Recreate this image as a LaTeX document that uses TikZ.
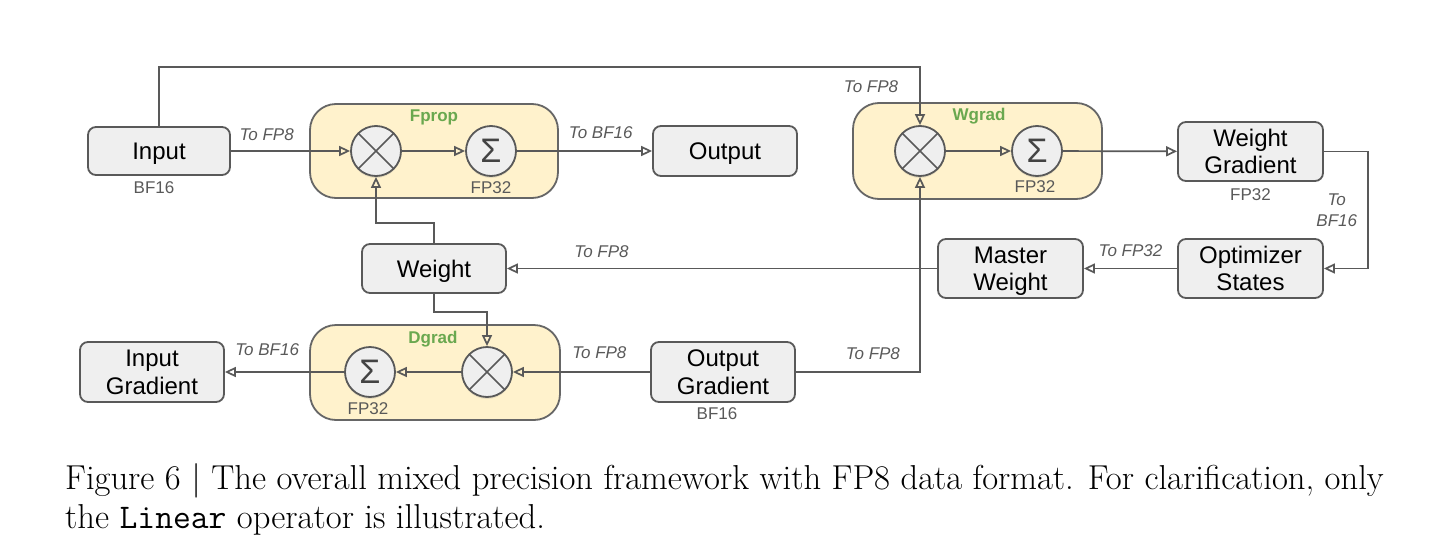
\documentclass[tikz,border=0pt]{standalone}
\usepackage{fontspec}
\setsansfont{Liberation Sans}
\usetikzlibrary{arrows.meta,shadows}

\definecolor{boxfill}{HTML}{EFEFEF}
\definecolor{boxline}{HTML}{595959}
\definecolor{stagefill}{HTML}{FFF2CC}
\definecolor{stageline}{HTML}{666666}
\definecolor{connline}{HTML}{595959}
\definecolor{lbltext}{HTML}{595959}
\definecolor{titlegreen}{HTML}{6AA84F}
\definecolor{sigmatext}{HTML}{434343}

\newcommand{\toprowy}{151}
\newcommand{\midrowy}{268.5}
\newcommand{\botrowy}{372}

\tikzset{
  box/.style={draw=boxline, fill=boxfill, line width=1.8pt, rounded corners=8pt,
    align=center, inner sep=0pt, text depth=0pt, text=black,
    font=\sffamily\fontsize{24}{27.5}\selectfont},
  stage/.style={draw=stageline, fill=stagefill, line width=1.8pt, rounded corners=26pt, inner sep=0pt},
  opnode/.style={circle, draw=boxline, fill=boxfill, line width=1.8pt, minimum size=50pt, inner sep=0pt,
    drop shadow={opacity=0.18, shadow xshift=0pt, shadow yshift=-2pt}},
  mulop/.style={opnode, path picture={
      \draw[boxline, line width=1.6pt] (path picture bounding box.north west) -- (path picture bounding box.south east)
        (path picture bounding box.north east) -- (path picture bounding box.south west);}},
  sumop/.style={opnode, text=sigmatext, text depth=0pt, font=\sffamily\fontsize{34}{34}\selectfont},
  conn/.style={draw=connline, line width=1.7pt, -{Triangle[open, length=11pt, width=10pt]}},
  lbl/.style={inner sep=0pt, text=lbltext, font=\sffamily\itshape\fontsize{17}{21}\selectfont},
  prec/.style={inner sep=0pt, text=lbltext, font=\sffamily\fontsize{17}{17}\selectfont},
  title/.style={inner sep=0pt, text=titlegreen, font=\sffamily\bfseries\fontsize{17}{17}\selectfont},
  caption/.style={inner sep=0pt, font=\fontsize{34.6}{39}\selectfont},
}

\begin{document}
\begin{tikzpicture}[x=1pt, y=-1pt]
  \useasboundingbox (0,0) rectangle (1436,549);
  % the three stages
  \node[stage, minimum width=248pt, minimum height=94pt, label={[title, anchor=north, yshift=-6.5pt]north:Fprop}] (fprop) at (434,151) {};
  \node[stage, minimum width=249pt, minimum height=96pt, label={[title, anchor=north, xshift=1.5pt, yshift=-6pt]north:Wgrad}] (wgrad) at (977.5,151) {};
  \node[stage, minimum width=250pt, minimum height=95pt, label={[title, anchor=north, xshift=-2pt, yshift=-7pt]north:Dgrad}] (dgrad) at (435,372.5) {};
  % multiply and sum operators
  \node[mulop] (fmul) at (376,\toprowy) {};
  \node[sumop, label={[prec, yshift=-5pt]below:FP32}] (fsum) at (491,\toprowy) {Σ};
  \node[mulop] (wmul) at (920,\toprowy) {};
  \node[sumop, label={[prec, xshift=-2pt, yshift=-4pt]below:FP32}] (wsum) at (1037,\toprowy) {Σ};
  \node[sumop, label={[prec, xshift=-2pt, yshift=-5pt]below:FP32}] (dsum) at (370,\botrowy) {Σ};
  \node[mulop] (dmul) at (487,\botrowy) {};
  % tensors
  \node[box, minimum width=142pt, minimum height=48pt, label={[prec, xshift=-5pt, yshift=-6pt]below:BF16}] (inp) at (159,\toprowy) {Input};
  \node[box, minimum width=144pt, minimum height=50pt] (out) at (725,\toprowy) {Output};
  \node[box, minimum width=145pt, minimum height=59pt, label={[prec, yshift=-7pt]below:FP32}] (wgr) at (1250.5,151.5) {Weight\\Gradient};
  \node[box, minimum width=145pt, minimum height=59pt] (opt) at (1250.5,\midrowy) {Optimizer\\States};
  \node[box, minimum width=145pt, minimum height=59pt] (mw) at (1010.5,\midrowy) {Master\\Weight};
  \node[box, minimum width=144pt, minimum height=49pt] (wt) at (434,\midrowy) {Weight};
  \node[box, minimum width=144pt, minimum height=60pt] (ig) at (152,\botrowy) {Input\\Gradient};
  \node[box, minimum width=144pt, minimum height=60pt, label={[prec, xshift=-6pt, yshift=-5pt]below:BF16}] (og) at (723,\botrowy) {Output\\Gradient};
  % forward pass
  \draw[conn] (inp) -- node[lbl, above=9pt, pos=0.3] {To FP8} (fmul);
  \draw[conn] (fmul) -- (fsum);
  \draw[conn] (fsum) -- node[lbl, above=11pt, pos=0.62] {To BF16} (out);
  \draw[conn] (wt.north) -- ++(0,-20) -| (fmul.south);
  % weight gradient and update
  \draw[conn] (inp.north) -- ++(0,-59) -| node[lbl, pos=0.5, anchor=base east, xshift=-21pt, yshift=-25pt] {To FP8} (wmul.north);
  \draw[conn] (wmul) -- (wsum);
  \draw[conn] (wsum) -- (wgr);
  \draw[conn] (wgr.east) -- ++(44,0) |- node[lbl, pos=0.25, left=10pt, align=center] {To\\BF16} (opt.east);
  \draw[conn] (opt) -- node[lbl, above=11pt] {To FP32} (mw);
  \draw[conn] (mw) -- node[lbl, above=10pt, pos=0.78] {To FP8} (wt);
  \draw[conn] (og.east) -| node[lbl, above=11pt, pos=0.31] {To FP8} (wmul.south);
  % data gradient
  \draw[conn] (wt.south) -- ++(0,18) -| (dmul.north);
  \draw[conn] (og) -- node[lbl, above=12pt, pos=0.37] {To FP8} (dmul);
  \draw[conn] (dmul) -- (dsum);
  \draw[conn] (dsum) -- node[lbl, above=15pt, pos=0.645] {To BF16} (ig);
  % caption
  \node[caption, anchor=base west] (capa) at (65,489) {Figure 6 | The overall mixed precision framework with FP8 data format. For clarification, only};
  \node[caption, anchor=base west] (capb) at (65,528) {the \texttt{Linear} operator is illustrated.};
\end{tikzpicture}
\end{document}
